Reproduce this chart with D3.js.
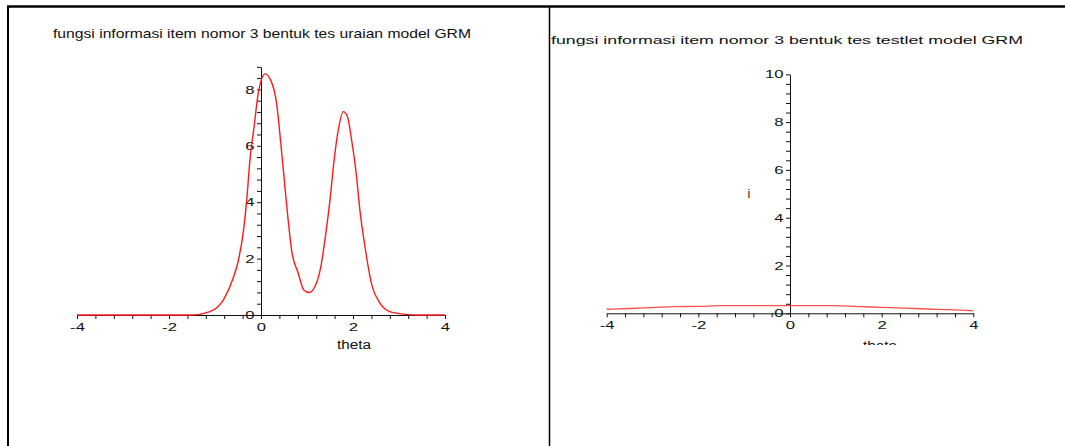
<!DOCTYPE html>
<html>
<head>
<meta charset="utf-8">
<script src="https://cdn.jsdelivr.net/npm/d3@7"></script>
<style>
  body { margin: 0; background: #fff; }
  svg { display: block; }
</style>
</head>
<body>
<div id="chart"></div>
<script>
// left panel: tes uraian
const uraianTheta = [-4, -1.5, -1.11, -0.82, -0.62, -0.49, -0.38, -0.31, -0.24, -0.15, -0.06, 0.09, 0.21, 0.34, 0.43, 0.52, 0.59, 0.67, 0.81, 0.93, 1.05, 1.17, 1.3, 1.41, 1.5, 1.59, 1.68, 1.79, 1.88, 1.97, 2.07, 2.15, 2.26, 2.41, 2.59, 2.8, 3.1, 3.35, 4];
const uraianInfo = [0, 0, 0.12, 0.53, 1.24, 1.95, 3.0, 4.08, 5.5, 6.68, 7.86, 8.55, 8.33, 7.5, 6.09, 4.55, 3.37, 2.25, 1.48, 0.89, 0.8, 1.0, 1.71, 2.9, 4.08, 5.5, 6.56, 7.21, 7.03, 6.2, 5.02, 3.72, 2.42, 1.06, 0.41, 0.12, 0.03, 0, 0];

// right panel: tes testlet
const testletTheta = [-4, -3.5, -3, -2.5, -2, -1.5, -1, -0.5, 0, 0.5, 1, 1.5, 2, 2.5, 3, 3.5, 4];
const testletInfo = [0.17, 0.2, 0.24, 0.28, 0.29, 0.32, 0.32, 0.32, 0.32, 0.32, 0.32, 0.28, 0.25, 0.22, 0.18, 0.15, 0.1];

const xMajor = [-4, -2, 0, 2, 4];
const uraianYMajor = [0, 2, 4, 6, 8];
const testletYMajor = [0, 2, 4, 6, 8, 10];

const FONT = "'Liberation Sans', Arial, sans-serif";

const svg = d3.select('#chart').append('svg')
  .attr('width', 1065).attr('height', 446);

// frame lines
svg.append('line').attr('x1', 7).attr('x2', 1065).attr('y1', 6.5).attr('y2', 6.5)
  .attr('stroke', '#000').attr('stroke-width', 2.5);
svg.append('line').attr('x1', 8).attr('x2', 8).attr('y1', 6).attr('y2', 446)
  .attr('stroke', '#000').attr('stroke-width', 2);
svg.append('line').attr('x1', 549.5).attr('x2', 549.5).attr('y1', 6).attr('y2', 446)
  .attr('stroke', '#000').attr('stroke-width', 1.5);

svg.append('defs').append('clipPath').attr('id', 'rightClip')
  .append('rect').attr('x', 551).attr('y', 0).attr('width', 514).attr('height', 345);

function isMajor(v, list) {
  return list.some(m => Math.abs(m - v) < 1e-6);
}

function panel(o) {
  const g = svg.append('g');
  if (o.clip) g.attr('clip-path', 'url(#rightClip)');

  const x = d3.scaleLinear().domain([-4, 4]).range(o.xRange);
  const y = d3.scaleLinear().domain(o.yDomain).range(o.yRange);

  // title
  g.append('text')
    .attr('x', o.title.x).attr('y', o.title.y)
    .attr('font-family', FONT).attr('font-size', o.title.size)
    .attr('fill', '#111')
    .attr('textLength', o.title.len).attr('lengthAdjust', 'spacingAndGlyphs')
    .text(o.title.text);

  // x axis
  const xTicks = d3.range(0, 21).map(i => -4 + i * 0.4);
  const xAxis = g.append('g')
    .attr('transform', `translate(0,${y(0)})`)
    .call(d3.axisBottom(x).tickValues(xTicks).tickSize(4).tickSizeOuter(0)
      .tickFormat(d => isMajor(d, xMajor) ? String(Math.round(d)) : ''));
  xAxis.select('.domain').attr('stroke', '#111');
  xAxis.selectAll('line').attr('stroke', '#111');
  xAxis.selectAll('text')
    .attr('font-family', FONT).attr('font-size', 11.5).attr('fill', '#111')
    .attr('y', 7).attr('dy', '0.75em')
    .attr('transform', 'scale(1.45,1)');

  // y axis
  const yTicks = d3.range(0, o.yTickCount).map(i => i * 0.4);
  const yAxis = g.append('g')
    .attr('transform', `translate(${x(0)},0)`)
    .call(d3.axisLeft(y).tickValues(yTicks).tickSize(4).tickSizeOuter(0)
      .tickFormat(d => isMajor(d, o.yMajor) ? String(Math.round(d)) : ''));
  yAxis.select('.domain').attr('stroke', '#111');
  yAxis.selectAll('line').attr('stroke', '#111');
  yAxis.selectAll('text')
    .attr('font-family', FONT).attr('font-size', 11.5).attr('fill', '#111')
    .attr('x', -4.5)
    .attr('transform', 'scale(1.45,1)');

  // axis titles
  g.append('text').attr('x', o.xLabel[0]).attr('y', o.xLabel[1])
    .attr('text-anchor', 'middle').attr('font-family', FONT).attr('font-size', 12)
    .attr('textLength', 34).attr('lengthAdjust', 'spacingAndGlyphs')
    .attr('fill', '#111').text('theta');
  if (o.yLabel) {
    g.append('text').attr('x', o.yLabel[0]).attr('y', o.yLabel[1])
      .attr('text-anchor', 'middle').attr('font-family', FONT).attr('font-size', 12.5)
      .attr('fill', '#111').text('i');
  }

  // curve
  const pts = o.theta.map((t, i) => [t, o.info[i]]);
  g.append('path')
    .datum(pts)
    .attr('fill', 'none')
    .attr('stroke', o.color)
    .attr('stroke-width', o.width)
    .attr('d', d3.line().x(d => x(d[0])).y(d => y(d[1])).curve(d3.curveMonotoneX));
}

panel({
  theta: uraianTheta, info: uraianInfo,
  xRange: [77, 445], yDomain: [0, 8.8], yRange: [315, 66.8],
  yTickCount: 23, yMajor: uraianYMajor,
  color: '#ff1a1a', width: 1.4,
  title: { text: 'fungsi informasi item nomor 3 bentuk tes uraian model GRM', x: 53, y: 38, size: 13, len: 418 },
  xLabel: [354, 349]
});

panel({
  theta: testletTheta, info: testletInfo,
  xRange: [606.7, 973.3], yDomain: [0, 10], yRange: [313.3, 74.3],
  yTickCount: 26, yMajor: testletYMajor,
  color: '#ff5050', width: 1.3,
  title: { text: 'fungsi informasi item nomor 3 bentuk tes testlet model GRM', x: 551, y: 44, size: 11.5, len: 472 },
  xLabel: [880, 350], yLabel: [749, 198],
  clip: true
});
</script>
</body>
</html>
